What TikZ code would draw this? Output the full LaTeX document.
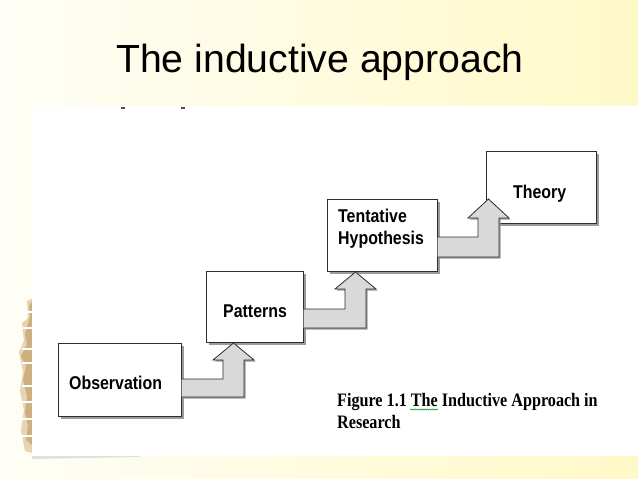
\documentclass[tikz,border=0pt]{standalone}
\usepackage{fontspec}
\setmainfont{Liberation Sans}
\newfontfamily\capfont{Liberation Serif}
\usetikzlibrary{calc,decorations.pathmorphing,shadows}
\definecolor{bgl}{RGB}{254,254,246}
\definecolor{bgr}{RGB}{255,249,200}
\definecolor{boxline}{RGB}{45,45,45}
\definecolor{arrfill}{RGB}{217,217,217}
\definecolor{shad}{RGB}{130,130,130}
\definecolor{tanA}{RGB}{205,175,130}
\definecolor{tanB}{RGB}{230,212,180}
\begin{document}
\begin{tikzpicture}[x=1pt,y=-1pt,
  stepbox/.style={draw=boxline, line width=1pt, fill=white, inner sep=0pt, outer sep=0pt,
    anchor=north west,
    drop shadow={shadow xshift=2.5pt, shadow yshift=-2.5pt, fill=shad, opacity=0.8}},
  boxtext/.style={font=\bfseries\fontsize{18.5}{20}\selectfont, inner sep=0pt, anchor=base west},
  captext/.style={font=\capfont\bfseries\fontsize{19}{21}\selectfont, inner sep=0pt, anchor=base west},
  blockarrow/.style={fill=arrfill, draw=boxline, line width=0.8pt, line join=miter,
    preaction={fill=shad!80, transform canvas={shift={(1.5,1.5)}}}}
]
% background
\useasboundingbox (0,0) rectangle (638,479);
\shade[left color=bgl, right color=bgr] (0,0) rectangle (638,479);
% paper stack decoration at left
\fill[tanB] (33,298) -- (27,301) -- (28,318) -- (22,323) -- (24,341) -- (19,352) -- (23,372) -- (20,391) -- (24,410) -- (21,430) -- (25,451) -- (33,453) -- cycle;
\fill[tanA] (33,300) -- (29,306) -- (30,316) -- (25,334) -- (27,344) -- (21,356) -- (26,366) -- (23,380) -- (27,396) -- (25,412) -- (28,426) -- (26,440) -- (33,446) -- cycle;
\foreach \yy in {312,328,349,363,386,402,419,436}{
  \draw[white, line width=1.6pt] (22,\yy) -- (33,\yy);
}
% white figure area
\fill[white] (32,106) rectangle (638,456);
\fill[black!12] (32,456) -- (140,456) -- (140,457) -- (32,459) -- cycle;
% cut-off marks at top edge
\fill[black!70] (121,106.5) rectangle (125,108.5);
\fill[black!70] (181,106.5) rectangle (185,108.5);
% title
\node[anchor=base west, font=\fontsize{39.2}{41}\selectfont, inner sep=0pt] (title) at (116,72.5) {The inductive approach};
% boxes
\node[stepbox, minimum width=123pt, minimum height=73pt] (obs) at (58,343) {};
\node[stepbox, minimum width=97pt, minimum height=71pt] (pat) at (206,271) {};
\node[stepbox, minimum width=110pt, minimum height=72pt] (ten) at (327,199) {};
\node[stepbox, minimum width=110pt, minimum height=72pt] (the) at (486,151) {};
% box texts
\node[boxtext] (obs-t) at (69,389.5) {\scalebox{0.86}[1]{Observation}};
\node[boxtext] (pat-t) at (223,317.5) {\scalebox{0.86}[1]{Patterns}};
\node[boxtext] (ten-t1) at (338,222.5) {\scalebox{0.86}[1]{Tentative}};
\node[boxtext] (ten-t2) at (338,244.5) {\scalebox{0.86}[1]{Hypothesis}};
\node[boxtext] (the-t) at (513,198.5) {\scalebox{0.86}[1]{Theory}};
% bent block arrows
\path[blockarrow] ($(obs.east |- 0,379)+(0.5,0)$) -- (223,379) -- (223,360) -- (213,360) -- (233.5,343) -- (254,360) -- (244,360) -- (244,397) -- ($(obs.east |- 0,397)+(0.5,0)$);
\path[blockarrow] ($(pat.east |- 0,309)+(0.5,0)$) -- (345,309) -- (345,289) -- (335,289) -- (355.5,272) -- (376,289) -- (366,289) -- (366,328) -- ($(pat.east |- 0,328)+(0.5,0)$);
\path[blockarrow] ($(ten.east |- 0,237)+(0.5,0)$) -- (478,237) -- (478,218) -- (468,218) -- (488.5,199) -- (509,218) -- (499,218) -- (499,257) -- ($(ten.east |- 0,257)+(0.5,0)$);
% caption
\node[captext] (cap1) at (337,406) {\scalebox{0.85}[1]{Figure 1.1 The Inductive Approach in}};
\node[captext] (cap2) at (337,428) {\scalebox{0.85}[1]{Research}};
\draw[green!55!black, line width=0.5pt, decorate, decoration={snake, amplitude=0.6pt, segment length=2.4pt}] (410,409.5) -- (438,409.5);
\end{tikzpicture}
\end{document}
